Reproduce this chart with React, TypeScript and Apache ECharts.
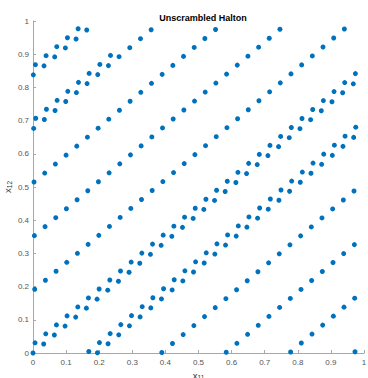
import React, { useEffect, useRef } from "react";
import * as echarts from "echarts";

// x_11 values (first 256 points, unscrambled Halton, dimension 11)
const xValues: number[] = [
  0, 0.0323, 0.0645, 0.0968, 0.129, 0.1613, 0.1935, 0.2258, 0.2581, 0.2903, 0.3226, 0.3548, 0.3871, 0.4194, 0.4516, 0.4839, 0.5161, 0.5484, 0.5806, 0.6129, 0.6452, 0.6774, 0.7097, 0.7419, 0.7742, 0.8065, 0.8387, 0.871, 0.9032, 0.9355, 0.9677,
  0.001, 0.0333, 0.0656, 0.0978, 0.1301, 0.1623, 0.1946, 0.2268, 0.2591, 0.2914, 0.3236, 0.3559, 0.3881, 0.4204, 0.4527, 0.4849, 0.5172, 0.5494, 0.5817, 0.6139, 0.6462, 0.6785, 0.7107, 0.743, 0.7752, 0.8075, 0.8398, 0.872, 0.9043, 0.9365, 0.9688,
  0.0021, 0.0343, 0.0666, 0.0989, 0.1311, 0.1634, 0.1956, 0.2279, 0.2601, 0.2924, 0.3247, 0.3569, 0.3892, 0.4214, 0.4537, 0.486, 0.5182, 0.5505, 0.5827, 0.615, 0.6472, 0.6795, 0.7118, 0.744, 0.7763, 0.8085, 0.8408, 0.873, 0.9053, 0.9376, 0.9698,
  0.0031, 0.0354, 0.0676, 0.0999, 0.1322, 0.1644, 0.1967, 0.2289, 0.2612, 0.2934, 0.3257, 0.358, 0.3902, 0.4225, 0.4547, 0.487, 0.5192, 0.5515, 0.5838, 0.616, 0.6483, 0.6805, 0.7128, 0.7451, 0.7773, 0.8096, 0.8418, 0.8741, 0.9063, 0.9386, 0.9709,
  0.0042, 0.0364, 0.0687, 0.1009, 0.1332, 0.1655, 0.1977, 0.23, 0.2622, 0.2945, 0.3267, 0.359, 0.3913, 0.4235, 0.4558, 0.488, 0.5203, 0.5525, 0.5848, 0.6171, 0.6493, 0.6816, 0.7138, 0.7461, 0.7784, 0.8106, 0.8429, 0.8751, 0.9074, 0.9396, 0.9719,
  0.0052, 0.0375, 0.0697, 0.102, 0.1342, 0.1665, 0.1988, 0.231, 0.2633, 0.2955, 0.3278, 0.36, 0.3923, 0.4246, 0.4568, 0.4891, 0.5213, 0.5536, 0.5859, 0.6181, 0.6504, 0.6826, 0.7149, 0.7471, 0.7794, 0.8117, 0.8439, 0.8762, 0.9084, 0.9407, 0.9729,
  0.0062, 0.0385, 0.0708, 0.103, 0.1353, 0.1675, 0.1998, 0.232, 0.2643, 0.2966, 0.3288, 0.3611, 0.3933, 0.4256, 0.4579, 0.4901, 0.5224, 0.5546, 0.5869, 0.6191, 0.6514, 0.6837, 0.7159, 0.7482, 0.7804, 0.8127, 0.845, 0.8772, 0.9095, 0.9417, 0.974,
  0.0073, 0.0395, 0.0718, 0.1041, 0.1363, 0.1686, 0.2008, 0.2331, 0.2653, 0.2976, 0.3299, 0.3621, 0.3944, 0.4266, 0.4589, 0.4912, 0.5234, 0.5557, 0.5879, 0.6202, 0.6524, 0.6847, 0.717, 0.7492, 0.7815, 0.8137, 0.846, 0.8783, 0.9105, 0.9428, 0.975,
  0.0083, 0.0406, 0.0728, 0.1051, 0.1374, 0.1696, 0.2019, 0.2341,
];

// x_12 values (same 256 points, dimension 12)
const yValues: number[] = [
  0, 0.027, 0.0541, 0.0811, 0.1081, 0.1351, 0.1622, 0.1892, 0.2162, 0.2432, 0.2703, 0.2973, 0.3243, 0.3514, 0.3784, 0.4054, 0.4324, 0.4595, 0.4865, 0.5135, 0.5405, 0.5676, 0.5946, 0.6216, 0.6486, 0.6757, 0.7027, 0.7297, 0.7568, 0.7838, 0.8108, 0.8378, 0.8649, 0.8919, 0.9189, 0.9459, 0.973,
  0.0007, 0.0278, 0.0548, 0.0818, 0.1088, 0.1359, 0.1629, 0.1899, 0.217, 0.244, 0.271, 0.298, 0.3251, 0.3521, 0.3791, 0.4061, 0.4332, 0.4602, 0.4872, 0.5142, 0.5413, 0.5683, 0.5953, 0.6224, 0.6494, 0.6764, 0.7034, 0.7305, 0.7575, 0.7845, 0.8115, 0.8386, 0.8656, 0.8926, 0.9196, 0.9467, 0.9737,
  0.0015, 0.0285, 0.0555, 0.0826, 0.1096, 0.1366, 0.1636, 0.1906, 0.2177, 0.2447, 0.2717, 0.2988, 0.3258, 0.3528, 0.3798, 0.4069, 0.4339, 0.4609, 0.4879, 0.515, 0.542, 0.569, 0.596, 0.6231, 0.6501, 0.6771, 0.7042, 0.7312, 0.7582, 0.7852, 0.8123, 0.8393, 0.8663, 0.8934, 0.9204, 0.9474, 0.9744,
  0.0022, 0.0292, 0.0562, 0.0833, 0.1103, 0.1373, 0.1643, 0.1914, 0.2184, 0.2454, 0.2725, 0.2995, 0.3265, 0.3535, 0.3806, 0.4076, 0.4346, 0.4617, 0.4887, 0.5157, 0.5427, 0.5698, 0.5968, 0.6238, 0.6508, 0.6779, 0.7049, 0.7319, 0.7589, 0.786, 0.813, 0.84, 0.8671, 0.8941, 0.9211, 0.9481, 0.9752,
  0.0029, 0.03, 0.057, 0.084, 0.111, 0.1381, 0.1651, 0.1921, 0.2191, 0.2462, 0.2732, 0.3002, 0.3272, 0.3543, 0.3813, 0.4083, 0.4354, 0.4624, 0.4894, 0.5164, 0.5435, 0.5705, 0.5975, 0.6245, 0.6516, 0.6786, 0.7056, 0.7326, 0.7597, 0.7867, 0.8137, 0.8407, 0.8678, 0.8948, 0.9218, 0.9489, 0.9759,
  0.0037, 0.0307, 0.0577, 0.0847, 0.1118, 0.1388, 0.1658, 0.1928, 0.2199, 0.2469, 0.2739, 0.3009, 0.328, 0.355, 0.382, 0.4091, 0.4361, 0.4631, 0.4901, 0.5172, 0.5442, 0.5712, 0.5982, 0.6253, 0.6523, 0.6793, 0.7064, 0.7334, 0.7604, 0.7874, 0.8145, 0.8415, 0.8685, 0.8955, 0.9226, 0.9496, 0.9766,
  0.0044, 0.0314, 0.0584, 0.0855, 0.1125, 0.1395, 0.1665, 0.1936, 0.2206, 0.2476, 0.2747, 0.3017, 0.3287, 0.3557, 0.3828, 0.4098, 0.4368, 0.4638, 0.4909, 0.5179, 0.5449, 0.572, 0.599, 0.626, 0.653, 0.6801, 0.7071, 0.7341, 0.7611, 0.7882, 0.8152, 0.8422, 0.8692, 0.8963,
];

const titleText = "Unscrambled Halton";
const xName = "{v|x}{s|11}";
const yName = "{v|x}{s|12}";

const FONT = "'Liberation Sans', Arial, Helvetica, sans-serif";
const AXIS_LINE = "#a8a8a8";
const LABEL = "#555555";

export default function App() {
  const ref = useRef<HTMLDivElement>(null);

  useEffect(() => {
    if (!ref.current) return;
    const chart = echarts.init(ref.current, undefined, { renderer: "svg" });
    const data = xValues.map((x, i) => [x, yValues[i]]);
    const nameRich = {
      v: { fontSize: 9.5, color: "#333", fontFamily: FONT, lineHeight: 12, verticalAlign: "middle" },
      s: { fontSize: 6.5, color: "#333", fontFamily: FONT, lineHeight: 8, verticalAlign: "bottom" },
    };
    const axisCommon = {
      type: "value",
      min: 0,
      max: 1,
      interval: 0.1,
      splitLine: { show: false },
      axisLine: { show: true, lineStyle: { color: AXIS_LINE, width: 1 } },
      axisTick: { show: true, inside: true, length: 3, lineStyle: { color: AXIS_LINE, width: 1 } },
      axisLabel: { color: LABEL, fontSize: 8, fontFamily: FONT, showMinLabel: true, showMaxLabel: true },
    };
    chart.setOption({
      animation: false,
      backgroundColor: "#ffffff",
      title: {
        text: titleText,
        left: 198,
        top: 8,
        textAlign: "center",
        textStyle: { fontSize: 9, fontWeight: "bold", color: "#000", fontFamily: FONT },
      },
      grid: { left: 33, right: 4, top: 21, bottom: 25, containLabel: false, outerBoundsMode: "none" },
      xAxis: {
        ...axisCommon,
        axisLabel: { ...axisCommon.axisLabel, margin: 5 },
        name: xName,
        nameLocation: "middle",
        nameGap: 16,
        nameMoveOverlap: false,
        nameTextStyle: { rich: nameRich },
      },
      yAxis: {
        ...axisCommon,
        axisLabel: { ...axisCommon.axisLabel, margin: 4 },
        name: yName,
        nameLocation: "middle",
        nameRotate: 90,
        nameGap: 20,
        nameMoveOverlap: false,
        nameTextStyle: { rich: nameRich },
      },
      series: [
        {
          type: "scatter",
          data,
          symbol: "circle",
          symbolSize: 5,
          clip: false,
          itemStyle: { color: "#0072BD", opacity: 1 },
        },
      ],
    });
    return () => chart.dispose();
  }, []);

  return (
    <div
      ref={ref}
      style={{ position: "fixed", left: 0, top: 0, width: 368, height: 378, background: "#fff" }}
    />
  );
}
